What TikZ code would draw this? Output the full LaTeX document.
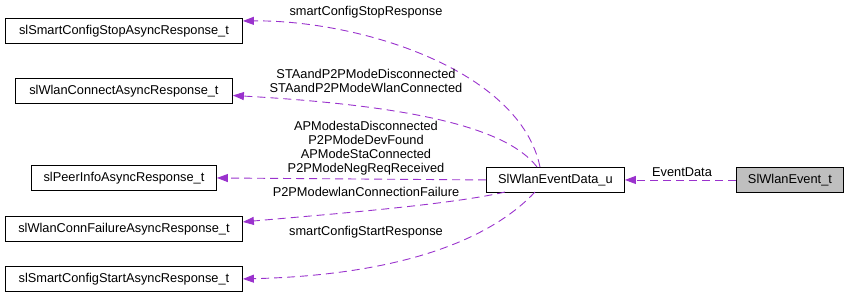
\documentclass[tikz,border=0pt]{standalone}
\usepackage{fontspec}
\setmainfont{Liberation Sans}
\usetikzlibrary{arrows.meta}
\definecolor{edgepurple}{HTML}{9A32CD}
\definecolor{rootgrey}{HTML}{BFBFBF}
\begin{document}
\begin{tikzpicture}[x=1pt,y=-1pt,
  every node/.style={font=\fontsize{12.8}{14}\selectfont, inner sep=0pt},
  classbox/.style={draw=black, line width=0.9pt, fill=white, minimum height=25pt, anchor=north west},
  usage/.style={draw=edgepurple, line width=0.9pt, dash pattern=on 8pt off 5pt,
    -{Triangle[length=11pt,width=8pt,fill=edgepurple]}},
  lbl/.style={align=center, fill=none}]
\useasboundingbox (0,0) rectangle (848,297);

% class boxes
\node[classbox, minimum width=237pt] (stop) at (5,18) {slSmartConfigStopAsyncResponse\_t};
\node[classbox, minimum width=217pt] (conn) at (15,78) {slWlanConnectAsyncResponse\_t};
\node[classbox, minimum width=185pt] (peer) at (31,165) {slPeerInfoAsyncResponse\_t};
\node[classbox, minimum width=237pt] (fail) at (5,216) {slWlanConnFailureAsyncResponse\_t};
\node[classbox, minimum width=237pt] (start) at (5,266) {slSmartConfigStartAsyncResponse\_t};
\node[classbox, minimum width=138pt] (data) at (486,167) {SlWlanEventData\_u};
\node[classbox, minimum width=107pt, fill=rootgrey] (event) at (736,167) {SlWlanEvent\_t};

% connection points on the union box
\coordinate (dTopA) at (540,167);
\coordinate (dTopB) at (537,167);
\coordinate (dBotA) at (505,192);
\coordinate (dBotB) at (535,192);

% member edges
\draw[usage] (event.west) -- (data.east);
\draw[usage] (dTopA) .. controls (520,70) and (360,20) .. ([yshift=10pt]stop.east);
\draw[usage] (dTopB) .. controls (505,125) and (400,105) .. ([yshift=-4.5pt]conn.east);
\draw[usage] (data.west) -- (peer.east);
\draw[usage] (dBotA) .. controls (450,205) and (320,215) .. ([yshift=7pt]fail.east);
\draw[usage] (dBotB) .. controls (490,240) and (400,275) .. (start.east);

% edge labels
\node[lbl] (lEvent) at (682,172) {EventData};
\node[lbl] (lStop) at (366,12) {smartConfigStopResponse};
\node[lbl] (lConn) at (366,81) {STAandP2PModeDisconnected\\STAandP2PModeWlanConnected};
\node[lbl] (lPeer) at (366,148) {APModestaDisconnected\\P2PModeDevFound\\APModeStaConnected\\P2PModeNegReqReceived};
\node[lbl] (lFail) at (366,192) {P2PModewlanConnectionFailure};
\node[lbl] (lStart) at (366,232) {smartConfigStartResponse};
\end{tikzpicture}
\end{document}
